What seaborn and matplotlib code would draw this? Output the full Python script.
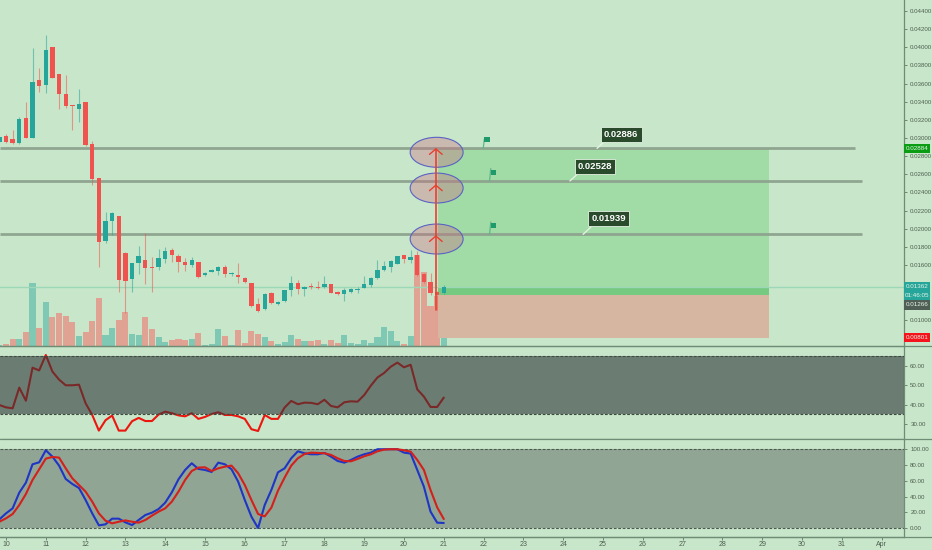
import numpy as np
import pandas as pd
import matplotlib
matplotlib.use('Agg')
import matplotlib.pyplot as plt
from matplotlib.patches import Ellipse, Rectangle
from matplotlib.lines import Line2D
import seaborn as sns

# 4h candles, prices in 1e-5
opens = [2952,3022,2989,2949,3220,2999,3636,3584,4001,3702,3489,3367,3320,3397,2930,2555,1868,2085,2140,1729,
         1442,1619,1655,1582,1578,1670,1762,1699,1637,1600,1633,1486,1527,1538,1574,1501,1490,1457,1398,1167,
         1111,1292,1174,1200,1328,1402,1339,1372,1358,1358,1387,1299,1280,1306,1321,1347,1380,1457,1541,1582,
         1611,1707,1655,1710,1501,1416,1299,1288]
highs = [3033,3040,3088,3235,3400,3988,3768,4135,4001,3705,3694,3367,3536,3400,2971,2555,2181,2181,2140,1740,
         1626,1810,1957,1685,1773,1802,1784,1721,1674,1692,1637,1523,1552,1593,1600,1527,1626,1464,1405,1233,
         1288,1299,1207,1325,1479,1435,1369,1405,1424,1479,1391,1314,1350,1350,1354,1479,1464,1655,1648,1655,
         1703,1710,1765,1758,1516,1516,1310,1380]
lows = [2941,2941,2934,2934,2999,2999,3511,3492,3665,3316,3327,3088,3176,2912,2482,1582,1839,1931,1306,1067,
        1299,1501,1391,1299,1545,1619,1637,1527,1538,1582,1453,1479,1519,1494,1472,1479,1405,1405,1141,1086,
        1104,1170,1156,1189,1262,1280,1262,1332,1332,1350,1288,1269,1207,1288,1288,1343,1361,1449,1534,1527,
        1608,1626,1626,1483,1398,1269,1104,1280]
closes = [3007,2959,2949,3206,2999,3614,3573,3970,3665,3485,3353,3356,3375,2923,2544,1857,2085,2170,1435,1427,
          1626,1696,1571,1571,1674,1758,1707,1637,1600,1652,1472,1508,1545,1578,1501,1508,1468,1413,1152,1093,
          1280,1181,1192,1321,1398,1339,1358,1358,1343,1391,1295,1277,1325,1339,1336,1387,1461,1545,1589,1648,
          1699,1663,1692,1490,1413,1292,1273,1361]
volumes = [3,5,20,20,42,189,55,133,86,99,89,71,31,42,75,144,33,54,78,102,35,32,87,50,27,11,17,22,17,22,38,2,7,50,31,2,47,
           9,45,37,28,14,7,12,34,20,16,16,17,7,18,8,32,8,7,18,8,26,58,45,14,7,30,273,221,121,151,31]
rsi = [39.9,38.7,38.2,48.8,42.1,59.0,57.6,65.5,57.0,52.9,50.0,50.0,50.3,40.8,34.8,26.8,32.1,34.5,26.8,26.8,31.6,33.3,
       31.7,31.7,35.0,36.5,35.7,34.6,34.1,35.7,32.8,33.8,35.3,36.2,34.8,34.8,34.1,32.8,27.5,26.6,34.8,32.8,32.8,38.6,
       42.0,40.3,41.1,41.0,40.3,42.6,39.4,38.7,41.3,41.8,41.6,45.0,49.8,54.0,56.3,59.5,61.6,59.2,60.5,47.9,44.2,38.9,38.9,43.7]
stoch_k = [11,18.6,25,44.9,57.6,80.9,83.4,98.7,90.6,79.2,62.3,55.9,50.8,35.6,18.6,3.4,4.7,11.9,11.9,7.2,3.8,10.2,16.5,
           19.5,24.1,32.2,45.3,61.8,73.7,82.2,75,73.7,71.2,83,80.9,74.5,58.9,35.6,14.4,0,29.2,48.3,70.7,75.8,88.5,97.4,
           94.9,93.6,93.6,95.3,90.6,85.1,83,86.4,90.6,93.6,95.7,100,100,100,100,95.7,94.5,73.7,52.5,20.8,6.8,6.4]
stoch_d = [8,12.3,17.8,29.2,43.2,61,74.5,88.1,90.2,89.4,75.8,63.1,54.6,46.2,33.5,18.6,9.3,5.9,8,9.7,8,6.8,10.2,15.7,
           20.8,25,33.5,46.2,61,72.4,76.7,77.1,72.4,75.8,77.9,79.2,69.5,54.6,35.6,17.8,14.8,25.8,47.4,64,79.2,88.5,94,
           95.7,95.3,94.9,92.8,88.5,85.1,84.7,87.7,91.1,93.6,97.4,99.5,100,100,98.7,97,86.4,73.7,48.3,26.3,11.4]
day_labels = [str(d) for d in range(10, 32)] + ['Apr']
day_ticks = list(range(10, 33))
price_ticks = [0.010 + 0.002 * i for i in range(18)]
hidden_ticks = ['0.01200', '0.01400']  # sit under the price tags
target_levels = [0.02886, 0.02528, 0.01939]
last_price = 0.01362
stop_price = 0.00801
entry_price = 0.01266

BG = '#c8e6c9'
TEAL = '#26a69a'
RED = '#ef5350'
TXT = '#4d5f50'
W, H = 932, 550

sns.set_theme(style='white', rc={'axes.facecolor': BG, 'figure.facecolor': BG})
plt.rcParams['font.family'] = ['Liberation Sans', 'DejaVu Sans']

df = pd.DataFrame({'open': opens, 'high': highs, 'low': lows, 'close': closes})[['open', 'high', 'low', 'close']] / 1e5
df['day'] = [10 + (k - 1) / 6 for k in range(len(df))]
df['volume'] = volumes
df['rsi'] = rsi
df['k'] = stoch_k
df['d'] = stoch_d
df['dir'] = np.where(df['close'] >= df['open'], 'up', 'down')

fig = plt.figure(figsize=(W / 100, H / 100), dpi=100)


def panel(top, bottom):
    return fig.add_axes([0, 1 - bottom / H, 904 / W, (bottom - top) / H])


xlim = (10 - 6 / 39.8, 10 + 898 / 39.8)
vol_ax = panel(0, 346)
ax = panel(0, 346)
rsi_ax = panel(346, 439)
st_ax = panel(439, 536.7)
ax.set_zorder(3)
ax.patch.set_alpha(0)

# volume under the candles
sns.barplot(data=df, x='day', y='volume', hue='dir', palette={'up': '#7fc8b4', 'down': '#e0a393'},
            native_scale=True, dodge=False, width=0.92, legend=False, ax=vol_ax, zorder=2,
            saturation=1, linewidth=0)
vol_ax.set_xlim(xlim)
vol_ax.set_ylim(0, 1038)
vol_ax.axis('off')

# candles
for d, g in df.groupby('dir'):
    c = TEAL if d == 'up' else RED
    ax.vlines(g['day'], g['low'], g['high'], color=c, lw=0.8, alpha=0.55, zorder=4)
    ax.bar(g['day'], (g['close'] - g['open']).abs().clip(lower=0.00004),
           bottom=g[['open', 'close']].min(axis=1), width=0.11, color=c, linewidth=0, zorder=5)

ax.set_xlim(xlim)
ax.set_ylim(0.044 - 335 / 9074, 0.044 + 11 / 9074)

# long position box
ax.add_patch(Rectangle((20.85, entry_price), 8.32, target_levels[0] - entry_price, fc='#a1dba5', ec='none', zorder=1))
ax.add_patch(Rectangle((20.85, entry_price), 8.32, last_price - entry_price, fc='#76c980', ec='none', zorder=1.5))
ax.add_patch(Rectangle((20.85, stop_price), 8.32, entry_price - stop_price, fc='#d6b6a1', ec='none', zorder=1))

ax.axhline(last_price, color='#9cd8b8', lw=1, zorder=2)
for lvl, end in zip(target_levels, [31.33, 31.5, 31.5]):
    ax.hlines(lvl, xlim[0], end, color='#8fa590', lw=2, zorder=3)

# ellipses and arrows on the targets
for cy in [0.02843, 0.02449, 0.01887]:
    ax.add_patch(Ellipse((20.82, cy), 1.33, 0.0033, fc=(0.8, 0.4, 0.5, 0.35), ec='#5a62c4', lw=0.8, zorder=6))
ax.plot([20.8, 20.8], [0.01105, 0.0288], color='#e8402f', lw=1.2, zorder=7)
for tip in [0.0288, 0.0248, 0.0192]:
    ax.plot([20.8 - 0.16, 20.8, 20.8 + 0.16], [tip - 0.0006, tip, tip - 0.0006], color='#e8402f', lw=1, zorder=7)

# flags
for fx, lvl in zip([21.99, 22.15, 22.15], target_levels):
    ax.plot([fx, fx + 0.03], [lvl, lvl + 0.00105 + (0.0003 if fx > 22 else 0)], color='#5fb58a', lw=0.9, zorder=7)
    ax.add_patch(Rectangle((fx + 0.03, lvl + 0.0007), 0.13, 0.00055, fc='#1f9a6a', ec='none', zorder=7))

# labels on the targets
for lvl, tx, ty, tip in zip(target_levels, [25.46, 24.8, 25.14], [0.03044, 0.02691, 0.02108], [24.85, 24.17, 24.5]):
    ax.annotate(f'{lvl:.5f}', xy=(tip, lvl), xytext=(tx, ty),
                ha='center', va='center', color='white', fontsize=6.8, fontweight='bold', zorder=9,
                bbox=dict(boxstyle='square,pad=0.32', fc='#2a4a2c', ec='#e4f2e4', lw=0.6),
                arrowprops=dict(arrowstyle='-', color='#e4f2e4', lw=1, shrinkA=0, shrinkB=0, relpos=(0.1, 0)))

# right side scale
tick_text = [f'{p:.5f}' for p in price_ticks]
ax.set_yticks(price_ticks, ['' if t in hidden_ticks else t for t in tick_text])
ax.yaxis.tick_right()
ax.set_xticks([])

# price tags
trans = ax.get_yaxis_transform()
tags = [(0.02884, '0.02884', '#0a9d14'), (0.01364, '0.01362', '#26a69a'), (0.01264, '01:46:05', '#26a69a'),
        (0.0116, '0.01266', '#4f5f55'), (stop_price, '0.00801', '#f5141c')]
for y, s, c in tags:
    ax.add_patch(Rectangle((1.0, y - 0.0005), 26 / 904, 0.001, transform=trans, fc=c, ec='none',
                           clip_on=False, zorder=10))
    ax.text(1.0 + 13 / 904, y, s, transform=trans, ha='center', va='center', fontsize=4.5, color='#e8f5e8',
            clip_on=False, zorder=11)

# rsi pane
sns.lineplot(data=df, x='day', y='rsi', color='#ec160e', lw=1.5, ax=rsi_ax, zorder=2)
rsi_ax.axhspan(35.2, 65, fc='#2d373a', alpha=0.6, ec='none', zorder=3)
for lvl in [35.2, 65]:
    rsi_ax.axhline(lvl, color='#3d4a40', lw=0.8, ls=(0, (2.5, 1.5)), zorder=4)
rsi_ax.set_ylim(22.5, 70.1)
rsi_ax.set_yticks([30, 40, 50, 60], ['30.00', '40.00', '50.00', '60.00'])
rsi_ax.yaxis.tick_right()
rsi_ax.set_xticks([])

# stochastic pane
st_ax.axhspan(0, 100, fc='#91a595', ec='none', zorder=1)
for lvl in [0, 100]:
    st_ax.axhline(lvl, color='#4a5a4e', lw=0.8, ls=(0, (2.5, 1.5)), zorder=2)
sns.lineplot(data=df, x='day', y='k', color='#1f35c4', lw=1.5, ax=st_ax, zorder=3)
sns.lineplot(data=df, x='day', y='d', color='#d3201c', lw=1.5, ax=st_ax, zorder=4)
st_ax.set_ylim(-11, 113)
st_ax.set_yticks([0, 20, 40, 60, 80, 100], ['0.00', '20.00', '40.00', '60.00', '80.00', '100.00'])
st_ax.yaxis.tick_right()
st_ax.set_xticks(day_ticks, day_labels)

for a in [ax, rsi_ax, st_ax]:
    a.set_xlim(xlim)
    a.set_xlabel('')
    a.set_ylabel('')
    a.tick_params(axis='y', labelsize=4.4, labelcolor=TXT, length=2, width=0.5, color=TXT, pad=2.5, right=True)
    a.tick_params(axis='x', labelsize=5, labelcolor=TXT, length=2, width=0.5, color=TXT, pad=1, bottom=True)
    for s in ['top', 'left']:
        a.spines[s].set_visible(False)
    for s in ['right', 'bottom']:
        a.spines[s].set_color('#6f8c76')
        a.spines[s].set_linewidth(0.9)

# pane separators run through the scale as well
for py in [346, 439, 536.7]:
    fig.add_artist(Line2D([0, 1], [1 - py / H, 1 - py / H], color='#6f8c76', lw=0.9))

plt.savefig('out.png', dpi=100)
